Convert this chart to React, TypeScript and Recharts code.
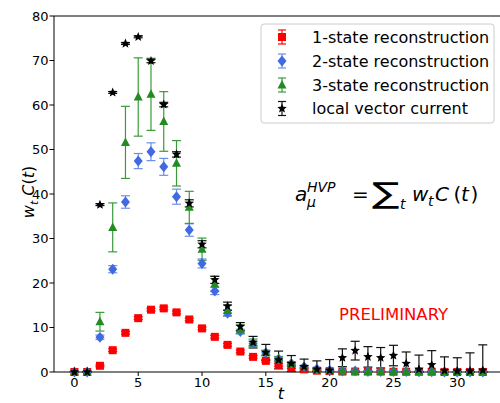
import React from "react";
import { ScatterChart, Scatter, XAxis, YAxis, ErrorBar, ReferenceLine } from "recharts";

// time slices t = 0..32
const tValues = [
  0, 1, 2, 3, 4, 5, 6, 7, 8, 9, 10, 11, 12, 13, 14, 15, 16, 17, 18, 19, 20,
  21, 22, 23, 24, 25, 26, 27, 28, 29, 30, 31, 32,
];

const oneState = [
  0, 0, 1.4, 4.9, 8.8, 12.1, 14.0, 14.3, 13.4, 11.8, 9.8, 7.9, 6.1, 4.6, 3.4,
  2.5, 1.6, 1.0, 0.6, 0.3, 0.2, 0.1, 0.1, 0.1, 0.1, 0.05, 0.05, 0.05, 0.05, 0, 0, 0, 0,
];
const oneStateErr = [
  0, 0, 0.2, 0.3, 0.3, 0.3, 0.3, 0.3, 0.3, 0.3, 0.3, 0.3, 0.3, 0.3, 0.3, 0.3,
  0.3, 0.2, 0.2, 0.1, 0.1, 0.1, 0.1, 0.1, 0.1, 0, 0, 0, 0, 0, 0, 0, 0,
];

const twoState = [
  0, 0, 7.8, 23.1, 38.2, 47.4, 49.5, 46.1, 39.4, 31.9, 24.4, 18.2, 13.2, 9.1,
  6.4, 4.3, 2.9, 1.9, 1.2, 0.7, 0.4, 0.2, 0.2, 0.1, 0.1, 0.1, 0.1, 0.05, 0.05, 0, 0, 0, 0,
];
const twoStateErr = [
  0, 0, 0.5, 0.8, 1.4, 1.7, 2.0, 1.9, 1.7, 1.4, 1.0, 0.8, 0.6, 0.5, 0.4, 0.4,
  0.3, 0.3, 0.2, 0.2, 0.1, 0.1, 0.1, 0.1, 0.1, 0.1, 0.1, 0, 0, 0, 0, 0, 0,
];

const threeState = [
  0, 0, 11.3, 32.5, 51.6, 61.8, 62.4, 56.3, 46.9, 37.0, 27.6, 19.8, 13.8, 9.6,
  6.6, 4.3, 3.0, 1.9, 1.2, 0.6, 0.3, 0.2, 0.1, 0.1, 0.1, 0.1, 0.1, 0.1, 0.1, 0.1, 0.1, 0.1, 0.1,
];
const threeStateErr = [
  0, 0, 2.1, 5.5, 8.1, 8.8, 8.1, 6.7, 5.1, 3.6, 2.5, 1.7, 1.2, 1.0, 0.8, 0.6,
  0.5, 0.4, 0.3, 0.2, 0.1, 0.1, 0.1, 0.1, 0.1, 0.1, 0.1, 0.1, 0.1, 0.1, 0.1, 0.1, 0.1,
];

const localCurrent = [
  0, 0, 37.6, 62.8, 73.8, 75.3, 69.9, 60.1, 48.9, 37.9, 28.7, 20.7, 14.8, 10.2,
  6.7, 4.4, 2.7, 1.9, 1.2, 0.6, 0.4, 3.2, 4.8, 3.4, 3.2, 3.7, 1.9, 0.6, 1.6, 0.3, 0.2, 0.2, 0.4,
];
const localCurrentErr = [
  0, 0, 0.2, 0.2, 0.2, 0.2, 0.4, 0.5, 0.6, 0.8, 0.8, 0.8, 0.9, 0.9, 1.3, 1.8,
  2.0, 1.8, 1.7, 1.9, 2.4, 2.0, 2.1, 2.3, 2.3, 2.3, 2.6, 3.2, 3.2, 3.1, 3.0, 4.1, 5.7,
];

const xTicks = [0, 5, 10, 15, 20, 25, 30];
const yTicks = [0, 10, 20, 30, 40, 50, 60, 70, 80];

const RED = "#ff0000";
const BLUE = "#4169e1";
const GREEN = "#228b22";
const BLACK = "#000000";
const FONT = "DejaVu Sans";

// lower error is cut at zero, like the axes clip in the original
const toPoints = (vals: number[], errs: number[]) =>
  tValues.map((t, i) => ({ t, v: vals[i], e: [Math.min(errs[i], vals[i]), errs[i]] }));

const squareShape = (cx: number, cy: number, c: string) => (
  <rect x={cx - 4} y={cy - 4} width={8} height={8} fill={c} />
);
const diamondShape = (cx: number, cy: number, c: string) => (
  <polygon points={`${cx},${cy - 5.5} ${cx + 4.5},${cy} ${cx},${cy + 5.5} ${cx - 4.5},${cy}`} fill={c} />
);
const triangleShape = (cx: number, cy: number, c: string) => (
  <polygon points={`${cx},${cy - 5} ${cx + 4.5},${cy + 3.5} ${cx - 4.5},${cy + 3.5}`} fill={c} />
);
const starShape = (cx: number, cy: number, c: string) => {
  const pts: string[] = [];
  for (let k = 0; k < 10; k++) {
    const r = k % 2 === 0 ? 5 : 2.2;
    const a = -Math.PI / 2 + (k * Math.PI) / 5;
    pts.push(`${cx + r * Math.cos(a)},${cy + r * Math.sin(a)}`);
  }
  return <polygon points={pts.join(" ")} fill={c} />;
};

const series = [
  { name: "1-state reconstruction", data: toPoints(oneState, oneStateErr), color: RED, bar: RED, shape: squareShape },
  { name: "2-state reconstruction", data: toPoints(twoState, twoStateErr), color: BLUE, bar: "#6f8ee8", shape: diamondShape },
  { name: "3-state reconstruction", data: toPoints(threeState, threeStateErr), color: GREEN, bar: "#3a9a3a", shape: triangleShape },
  { name: "local vector current", data: toPoints(localCurrent, localCurrentErr), color: BLACK, bar: "#111", shape: starShape },
];

function Overlay() {
  const rows = [37, 61, 85, 108.5];
  return (
    <svg
      width={500}
      height={403}
      style={{ position: "absolute", left: 0, top: 0, pointerEvents: "none" }}
      fontFamily={FONT}
    >
      {/* legend */}
      <rect x={261} y={24} width={233} height={99} rx={3} fill="#fff" fillOpacity={0.8} stroke="#cccccc" />
      {series.map((s, i) => {
        const cy = rows[i];
        return (
          <g key={s.name}>
            <line x1={282} x2={282} y1={cy - 7} y2={cy + 7} stroke={s.bar} strokeWidth={1.2} />
            <line x1={278} x2={286} y1={cy - 7} y2={cy - 7} stroke={s.bar} strokeWidth={1.2} />
            <line x1={278} x2={286} y1={cy + 7} y2={cy + 7} stroke={s.bar} strokeWidth={1.2} />
            {s.shape(282, cy, s.color)}
            <text x={312} y={cy + 5.5} fontSize={16} fill="#000">
              {s.name}
            </text>
          </g>
        );
      })}

      {/* formula */}
      <g fill="#000">
        <text x={295} y={201} fontSize={20} fontStyle="italic">a</text>
        <text x={307} y={192} fontSize={14} fontStyle="italic">HVP</text>
        <text x={307} y={207} fontSize={14} fontStyle="italic">μ</text>
        <text x={352} y={201} fontSize={20}>=</text>
        <text transform="translate(372,203) scale(1.4,1)" fontSize={29}>∑</text>
        <text x={400} y={209} fontSize={14} fontStyle="italic">t</text>
        <text x={412} y={201} fontSize={20} fontStyle="italic">w</text>
        <text x={428} y={206} fontSize={14} fontStyle="italic">t</text>
        <text x={435} y={201} fontSize={20} fontStyle="italic">C</text>
        <text x={453.5} y={201} fontSize={20}>(</text>
        <text x={461} y={201} fontSize={20} fontStyle="italic">t</text>
        <text x={470.5} y={201} fontSize={20}>)</text>
      </g>

      <text x={339} y={320} fontSize={16.5} fill={RED}>PRELIMINARY</text>

      {/* axis labels */}
      <text transform="translate(34,192) rotate(-90)" textAnchor="middle" fontSize={16} fill="#000">
        <tspan fontStyle="italic">w</tspan>
        <tspan fontStyle="italic" fontSize={11} dy={4}>t</tspan>
        <tspan fontStyle="italic" dx={5} dy={-4}>C</tspan>
        <tspan>(</tspan>
        <tspan fontStyle="italic">t</tspan>
        <tspan>)</tspan>
      </text>
      <text x={281} y={399} fontSize={16} fontStyle="italic" textAnchor="middle" fill="#000">t</text>
    </svg>
  );
}

export default function App() {
  const tickStyle = { fontSize: 13, fill: "#000", fontFamily: FONT };
  return (
    <div style={{ position: "absolute", left: 0, top: 0, width: 500, height: 403, background: "#fff" }}>
      <ScatterChart width={500} height={403} margin={{ top: 16, right: 0, bottom: 0, left: 0 }}>
        <XAxis
          type="number"
          dataKey="t"
          domain={[-1.6, 33.35]}
          ticks={xTicks}
          height={31}
          tickSize={4}
          tickMargin={2}
          tick={tickStyle}
          stroke="#000"
          axisLine={{ stroke: "#000" }}
          tickLine={{ stroke: "#000" }}
        />
        <YAxis
          type="number"
          dataKey="v"
          domain={[0, 80]}
          ticks={yTicks}
          width={54}
          tickSize={4.5}
          tickMargin={1}
          tick={tickStyle}
          stroke="#000"
          axisLine={{ stroke: "#000" }}
          tickLine={{ stroke: "#000" }}
        />
        <ReferenceLine y={80} stroke="#000" strokeWidth={1} />
        {series.map((s) => (
          <Scatter
            key={s.name}
            name={s.name}
            data={s.data}
            fill={s.color}
            isAnimationActive={false}
            shape={(p: any) => s.shape(p.cx, p.cy, s.color)}
          >
            <ErrorBar
              dataKey="e"
              direction="y"
              width={4.5}
              stroke={s.bar}
              strokeWidth={1.2}
              isAnimationActive={false}
            />
          </Scatter>
        ))}
      </ScatterChart>
      <Overlay />
    </div>
  );
}
